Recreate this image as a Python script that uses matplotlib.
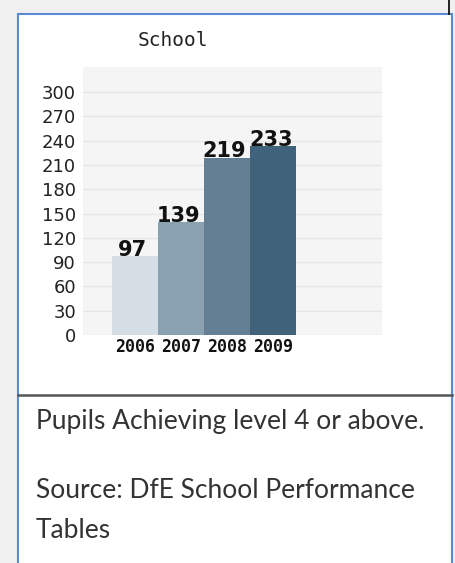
import matplotlib
matplotlib.use("Agg")
import matplotlib.pyplot as plt
from matplotlib.patches import Rectangle
from matplotlib.lines import Line2D

years = ["2006", "2007", "2008", "2009"]
pupils = [97, 139, 219, 233]
bar_colors = ["#d6dee5", "#8aa1b1", "#647f94", "#40627b"]
y_ticks = [0, 30, 60, 90, 120, 150, 180, 210, 240, 270, 300]

W, H = 456, 563
fig = plt.figure(figsize=(W / 100, H / 100), dpi=100)
fig.patch.set_facecolor("#f0f0f0")

def px(x, y):
    return x / W, 1 - y / H

# white panel with blue frame (runs past the bottom edge)
x0, y0 = px(18, 14)
x1, y1 = px(452, 575)
fig.patches.append(Rectangle((x0, y1), x1 - x0, y0 - y1, transform=fig.transFigure,
                             facecolor="white", edgecolor="#5b8ad0", linewidth=1.5,
                             zorder=-5))
# dark top-right edge
fig.add_artist(Line2D([449.5 / W, 449.5 / W], [1, 1 - 14 / H], color="black", lw=1.2))
# divider between chart and caption
fig.add_artist(Line2D([18 / W, 452 / W], [1 - 394.5 / H] * 2, color="#555555", lw=1.8))

# chart
ax_l, ax_r, ax_t, ax_b = 83, 382, 67, 335
ax = fig.add_axes([ax_l / W, 1 - ax_b / H, (ax_r - ax_l) / W, (ax_b - ax_t) / H])
ax.set_zorder(2)
ax.set_facecolor("#f5f5f5")
pos = list(range(len(years)))
ax.bar(pos, pupils, width=1.0, color=bar_colors, zorder=3)
ax.set_xlim(-1.13, 5.37)
ax.set_ylim(0, 331)
ax.set_yticks(y_ticks)
ax.set_yticklabels([str(v) for v in y_ticks], fontsize=13, color="#222222",
                   family="DejaVu Sans")
ax.set_xticks(pos)
ax.set_xticklabels(years, fontsize=12, fontweight="bold", family="DejaVu Sans Mono",
                   color="#111111")
ax.tick_params(axis="both", length=0)
ax.tick_params(axis="y", pad=5)
ax.tick_params(axis="x", pad=2)
ax.grid(axis="y", color="#e6e6e6", linewidth=1, zorder=0)
for s in ax.spines.values():
    s.set_visible(False)
for p, v in zip(pos, pupils):
    ax.text(p - 0.05, v + 0.5, str(v), ha="center", va="baseline", fontsize=15,
            fontweight="bold", color="#111111", zorder=4)

fig.text(173 / W, 1 - 40 / H, "School", ha="center", va="center", fontsize=14,
         family="DejaVu Sans Mono", color="#222222")

# caption
cap = dict(ha="left", va="center", fontsize=19, family="Lato", color="#333333")
fig.text(36 / W, 1 - 422 / H, "Pupils Achieving level 4 or above.", **cap)
fig.text(36 / W, 1 - 490 / H, "Source: DfE School Performance", **cap)
fig.text(36 / W, 1 - 530 / H, "Tables", **cap)

fig.savefig("out.png", dpi=100, facecolor=fig.get_facecolor())
